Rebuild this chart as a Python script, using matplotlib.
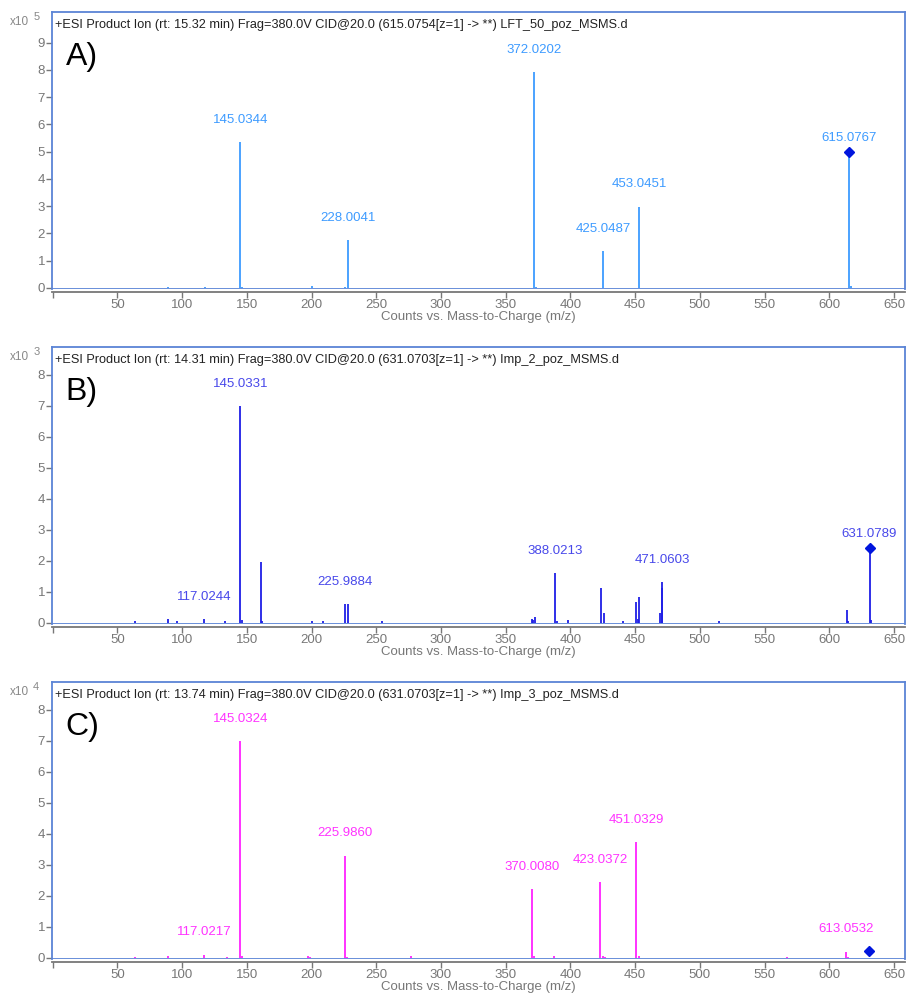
import matplotlib
matplotlib.use("Agg")
import matplotlib.pyplot as plt

plt.rcParams['font.family'] = ['Liberation Sans', 'DejaVu Sans']

# ---------------- data ----------------
headers = [
    "+ESI Product Ion (rt: 15.32 min) Frag=380.0V CID@20.0 (615.0754[z=1] -> **) LFT_50_poz_MSMS.d",
    "+ESI Product Ion (rt: 14.31 min) Frag=380.0V CID@20.0 (631.0703[z=1] -> **) Imp_2_poz_MSMS.d",
    "+ESI Product Ion (rt: 13.74 min) Frag=380.0V CID@20.0 (631.0703[z=1] -> **) Imp_3_poz_MSMS.d",
]
panel_letters = ["A)", "B)", "C)"]
exponents = ["5", "3", "4"]

# Panel A (x10^5 counts)
mz_a = [89.0, 117.5, 145.0344, 146.5, 200.0, 226.0, 228.0041, 372.0202, 373.5, 425.0487, 453.0451, 615.0767, 616.5]
int_a = [0.05, 0.05, 5.35, 0.05, 0.06, 0.05, 1.75, 7.92, 0.05, 1.35, 2.98, 4.95, 0.06]
lab_mz_a = [145.0344, 228.0041, 372.0202, 425.0487, 453.0451, 615.0767]
lab_int_a = [5.35, 1.75, 7.92, 1.35, 2.98, 4.95]
prec_a = (615.0767, 4.98)

# Panel B (x10^3 counts)
mz_b = [63.5, 89.0, 96.0, 117.0244, 133.0, 145.0331, 146.5, 161.0, 162.0, 200.0, 209.0,
        225.9884, 228.0, 254.5, 370.0, 371.0, 372.5, 388.0213, 389.5, 398.0, 423.5, 425.8,
        441.0, 451.0, 452.0, 453.0, 469.0, 470.5, 471.0603, 515.0, 613.5, 614.5, 631.0789, 632.5]
int_b = [0.05, 0.13, 0.06, 0.12, 0.07, 7.0, 0.08, 1.95, 0.06, 0.06, 0.05,
         0.61, 0.61, 0.06, 0.12, 0.1, 0.18, 1.6, 0.06, 0.08, 1.12, 0.32,
         0.07, 0.68, 0.12, 0.84, 0.33, 1.12, 1.3, 0.05, 0.42, 0.06, 2.38, 0.08]
lab_mz_b = [117.0244, 145.0331, 225.9884, 388.0213, 471.0603, 631.0789]
lab_int_b = [0.12, 7.0, 0.61, 1.6, 1.3, 2.38]
prec_b = (631.0789, 2.4)

# Panel C (x10^4 counts)
mz_c = [63.5, 89.0, 117.0217, 135.0, 145.0324, 146.5, 197.5, 199.0, 225.9860, 227.5, 277.0,
        370.0080, 372.0, 387.5, 423.0372, 425.0, 427.0, 451.0329, 453.0, 567.5, 613.0532, 614.5]
int_c = [0.04, 0.05, 0.1, 0.03, 7.0, 0.06, 0.06, 0.04, 3.3, 0.04, 0.06,
         2.22, 0.05, 0.07, 2.45, 0.05, 0.03, 3.74, 0.06, 0.04, 0.2, 0.04]
lab_mz_c = [117.0217, 145.0324, 225.9860, 370.0080, 423.0372, 451.0329, 613.0532]
lab_int_c = [0.1, 7.0, 3.3, 2.22, 2.45, 3.74, 0.2]
prec_c = (631.0703, 0.23)

x_ticks = [0, 50, 100, 150, 200, 250, 300, 350, 400, 450, 500, 550, 600, 650]
x_ticklabels = ["", "50", "100", "150", "200", "250", "300", "350", "400", "450", "500", "550", "600", "650"]
y_ticks_a = [0, 1, 2, 3, 4, 5, 6, 7, 8, 9]
y_ticks_bc = [0, 1, 2, 3, 4, 5, 6, 7, 8]

panels = [
    (mz_a, int_a, lab_mz_a, lab_int_a, prec_a, y_ticks_a, 10.12),
    (mz_b, int_b, lab_mz_b, lab_int_b, prec_b, y_ticks_bc, 8.9),
    (mz_c, int_c, lab_mz_c, lab_int_c, prec_c, y_ticks_bc, 8.9),
]
peak_colors = ["#3d9bff", "#1f1fe6", "#ff22ff"]
label_colors = ["#3d9bff", "#4848ea", "#ff33ff"]

# ---------------- layout ----------------
W, H = 908, 994
fig = plt.figure(figsize=(W / 100, H / 100), dpi=100)
frame_col = "#5b84d6"
gray = "#777777"
tops = [12, 347, 682]
ax_h = 277
left, right = 52, 905

for i, (mz, inten, lmz, lint, prec, yt, ytop) in enumerate(panels):
    ax = fig.add_axes([left / W, 1 - (tops[i] + ax_h) / H, (right - left) / W, ax_h / H])
    ax.set_xlim(-0.5, 658.5)
    ax.set_ylim(-0.04, ytop)
    ax.vlines(mz, 0, inten, color=peak_colors[i], lw=1.3)
    for x, y in zip(lmz, lint):
        off = 11 if abs(x - prec[0]) < 0.5 else 16
        ax.annotate(f"{x:.4f}", (x, y), xytext=(0, off), textcoords="offset points",
                    ha="center", va="center", fontsize=9.5, color=label_colors[i])
    ax.plot([prec[0]], [prec[1]], marker="D", ms=5.5, color="#0015dd", ls="none", zorder=5)

    for s in ["top", "right", "left"]:
        ax.spines[s].set_color(frame_col)
        ax.spines[s].set_linewidth(1.3)
    ax.spines["bottom"].set_color(gray)
    ax.spines["bottom"].set_linewidth(1.3)
    ax.spines["bottom"].set_position(("outward", 2.5))
    ax.axhline(-0.04, color=frame_col, lw=2.0, zorder=4)

    ax.set_xticks(x_ticks)
    ax.set_xticklabels(x_ticklabels)
    ax.set_yticks(yt)
    ax.tick_params(axis="both", colors=gray, labelcolor=gray, labelsize=9.5, length=4, width=1, pad=1)
    ax.set_xlabel("Counts vs. Mass-to-Charge (m/z)", color=gray, fontsize=9.5, labelpad=0)

    ax.text(0.003, 1 - 13 / ax_h, headers[i], transform=ax.transAxes, ha="left", va="center",
            fontsize=9.2, color="#222222")
    ax.text(0.016, 1 - 45 / ax_h, panel_letters[i], transform=ax.transAxes, ha="left", va="center",
            fontsize=23, color="black")
    ax.text(-0.0495, 1 - 10 / ax_h, "x10", transform=ax.transAxes, ha="left", va="center",
            fontsize=8.5, color="#888888")
    ax.text(-0.022, 1 - 5 / ax_h, exponents[i], transform=ax.transAxes, ha="left", va="center",
            fontsize=8, color="#888888")

fig.savefig("out.png", dpi=100)
